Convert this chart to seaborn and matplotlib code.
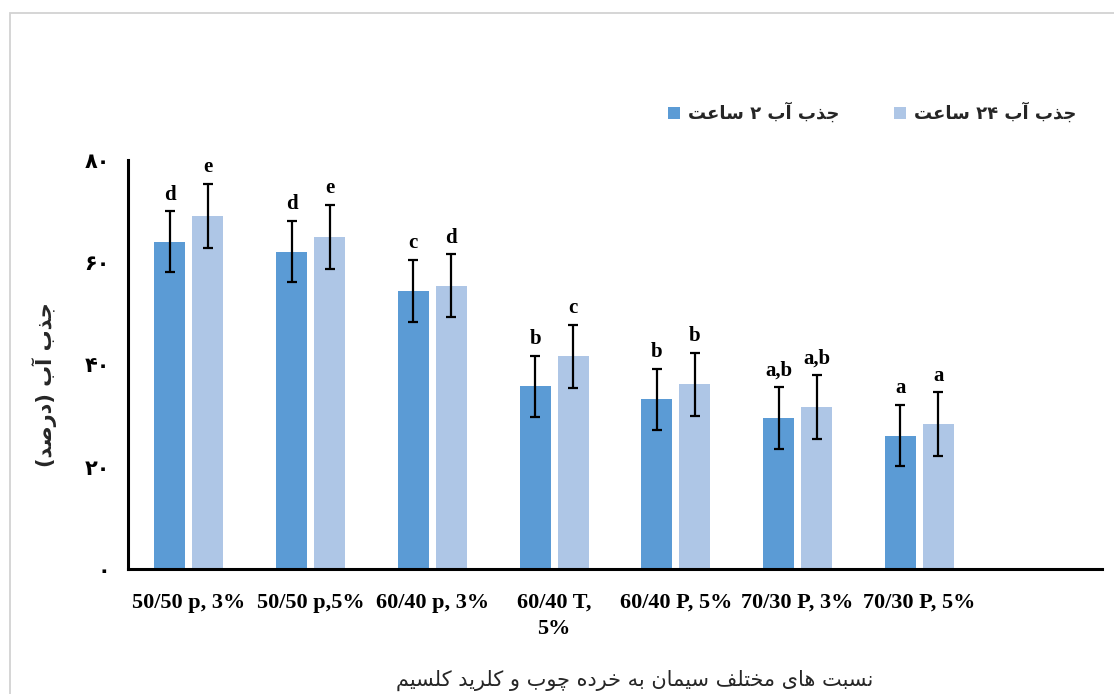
import matplotlib
matplotlib.use("Agg")
import matplotlib.pyplot as plt
import pandas as pd
import seaborn as sns
from matplotlib.patches import Rectangle

# ---- data -------------------------------------------------------------
categories = ["50/50 p, 3%", "50/50 p,5%", "60/40 p, 3%", "60/40 T,\n5%",
              "60/40 P, 5%", "70/30 P, 3%", "70/30 P, 5%"]
absorb_2h = [64.0, 62.1, 54.4, 35.7, 33.2, 29.5, 26.1]
absorb_24h = [69.1, 65.0, 55.4, 41.6, 36.1, 31.7, 28.4]
sd_2h = [6.0, 6.05, 6.1, 6.05, 6.0, 6.05, 6.05]
sd_24h = [6.3, 6.25, 6.2, 6.2, 6.2, 6.2, 6.2]
letters_2h = ["d", "d", "c", "b", "b", "a,b", "a"]
letters_24h = ["e", "e", "d", "c", "b", "a,b", "a"]
series_names = ["جذب آب ۲ ساعت", "جذب آب ۲۴ ساعت"]
y_ticks = [0, 20, 40, 60, 80]
y_label = "جذب آب (درصد)"
x_label = "نسبت های مختلف سیمان به خرده چوب و کلرید کلسیم"

DARK = "#5B9BD5"
LIGHT = "#AEC6E6"
FA_FONT = ["DejaVu Sans"]
LAT_FONT = ["Liberation Serif", "DejaVu Serif"]

# ---- minimal Persian shaping (matplotlib has no complex text layout) ----
# letter -> (isolated, final, initial, medial)
_FORMS = {
    "\u0627": ("\uFE8D", "\uFE8E", None, None),          # alef
    "\u0622": ("\uFE81", "\uFE82", None, None),          # alef madda
    "\u0628": ("\uFE8F", "\uFE90", "\uFE91", "\uFE92"),  # beh
    "\u062A": ("\uFE95", "\uFE96", "\uFE97", "\uFE98"),  # teh
    "\u062C": ("\uFE9D", "\uFE9E", "\uFE9F", "\uFEA0"),  # jeem
    "\u062E": ("\uFEA5", "\uFEA6", "\uFEA7", "\uFEA8"),  # khah
    "\u062F": ("\uFEA9", "\uFEAA", None, None),          # dal
    "\u0630": ("\uFEAB", "\uFEAC", None, None),          # thal
    "\u0631": ("\uFEAD", "\uFEAE", None, None),          # reh
    "\u0633": ("\uFEB1", "\uFEB2", "\uFEB3", "\uFEB4"),  # seen
    "\u0635": ("\uFEB9", "\uFEBA", "\uFEBB", "\uFEBC"),  # sad
    "\u0639": ("\uFEC9", "\uFECA", "\uFECB", "\uFECC"),  # ain
    "\u0641": ("\uFED1", "\uFED2", "\uFED3", "\uFED4"),  # feh
    "\u0644": ("\uFEDD", "\uFEDE", "\uFEDF", "\uFEE0"),  # lam
    "\u0645": ("\uFEE1", "\uFEE2", "\uFEE3", "\uFEE4"),  # meem
    "\u0646": ("\uFEE5", "\uFEE6", "\uFEE7", "\uFEE8"),  # noon
    "\u0647": ("\uFEE9", "\uFEEA", "\uFEEB", "\uFEEC"),  # heh
    "\u0648": ("\uFEED", "\uFEEE", None, None),          # waw
    "\u06CC": ("\uFBFC", "\uFBFD", "\uFBFE", "\uFBFF"),  # farsi yeh
    "\u06A9": ("\uFB8E", "\uFB8F", "\uFB90", "\uFB91"),  # keheh
    "\u0686": ("\uFB7A", "\uFB7B", "\uFB7C", "\uFB7D"),  # tcheh
}


def shape_rtl(text):
    chars = list(text)
    shaped = []
    for i, ch in enumerate(chars):
        forms = _FORMS.get(ch)
        if forms is None:
            shaped.append(ch)
            continue
        prev = _FORMS.get(chars[i - 1]) if i > 0 else None
        nxt = _FORMS.get(chars[i + 1]) if i + 1 < len(chars) else None
        join_prev = prev is not None and prev[2] is not None
        join_next = nxt is not None and forms[2] is not None
        if join_prev and join_next:
            shaped.append(forms[3])
        elif join_prev:
            shaped.append(forms[1])
        elif join_next:
            shaped.append(forms[2])
        else:
            shaped.append(forms[0])
    tokens = []
    for ch in shaped:
        if ch.isdigit() and tokens and tokens[-1][-1].isdigit():
            tokens[-1] += ch
        else:
            tokens.append(ch)
    mirror = {"(": ")", ")": "("}
    return "".join(mirror.get(t, t) for t in reversed(tokens))


def fa_digits(n):
    return str(n).translate(str.maketrans("0123456789", "۰۱۲۳۴۵۶۷۸۹"))


# ---- figure -------------------------------------------------------------
sns.set_theme(style="white")
W, H = 1114, 694
fig = plt.figure(figsize=(W / 100, H / 100), dpi=100)
ax = fig.add_axes([128 / W, 1 - 569 / H, (1102 - 128) / W, (569 - 160) / H])

labels_shaped = [shape_rtl(s) for s in series_names]
df = pd.DataFrame({
    "category": categories * 2,
    "series": [labels_shaped[0]] * len(categories) + [labels_shaped[1]] * len(categories),
    "value": absorb_2h + absorb_24h,
})

sns.barplot(data=df, x="category", y="value", hue="series",
            palette=[DARK, LIGHT], saturation=1, width=0.625, gap=0.18,
            errorbar=None, linewidth=0, ax=ax)

# error bars and significance letters on top of each bar
for container, sds, letters in zip(ax.containers, [sd_2h, sd_24h],
                                   [letters_2h, letters_24h]):
    xs = [b.get_x() + b.get_width() / 2 for b in container]
    hs = [b.get_height() for b in container]
    ax.errorbar(xs, hs, yerr=sds, fmt="none", ecolor="black",
                elinewidth=1.6, capsize=3.8, capthick=1.6, zorder=3)
    for x, h, s, lt in zip(xs, hs, sds, letters):
        ax.annotate(lt, (x, h + s), xytext=(0, 4.5), textcoords="offset points",
                    ha="center", va="bottom", fontsize=15, fontweight="bold",
                    family=LAT_FONT, color="black")

ax.set_xlim(-0.5, 7.5)
ax.set_ylim(0, 80)
ax.set_yticks(y_ticks)
ax.set_yticklabels([fa_digits(v) for v in y_ticks], family=FA_FONT,
                   fontweight="bold", fontsize=15)
ax.set_xticks(range(len(categories)))
ax.set_xticklabels(categories, family=LAT_FONT, fontweight="bold", fontsize=16,
                   linespacing=1.45)
ax.tick_params(axis="both", length=0, colors="black")
ax.tick_params(axis="x", pad=17)
ax.tick_params(axis="y", pad=13)
ax.set_xlabel("")
ax.set_ylabel("")

for side in ["top", "right"]:
    ax.spines[side].set_visible(False)
for side in ["left", "bottom"]:
    ax.spines[side].set_color("black")
    ax.spines[side].set_linewidth(2.2)

# legend
handles, labs = ax.get_legend_handles_labels()
if ax.get_legend() is not None:
    ax.get_legend().remove()
fig.legend(handles, labs, loc="center left",
           bbox_to_anchor=(668 / W, 1 - 113 / H), ncol=2, frameon=False,
           prop={"family": FA_FONT, "weight": "bold", "size": 13},
           handlelength=0.68, handleheight=0.68, handletextpad=0.45,
           columnspacing=3.0, borderpad=0, borderaxespad=0)

fig.text(45 / W, 1 - 385 / H, shape_rtl(y_label), rotation=90, ha="center",
         va="center", family=FA_FONT, fontweight="bold", fontsize=15)
fig.text(635 / W, 1 - 680 / H, shape_rtl(x_label), ha="center", va="center",
         family=FA_FONT, fontsize=15)

# outer frame
fig.add_artist(Rectangle((9.5 / W, -0.05), 1.2, 1.05 - 12.7 / H,
                         transform=fig.transFigure, fill=False,
                         edgecolor="#d2d2d2", linewidth=1.3, clip_on=False))

fig.savefig("out.png", dpi=100)
